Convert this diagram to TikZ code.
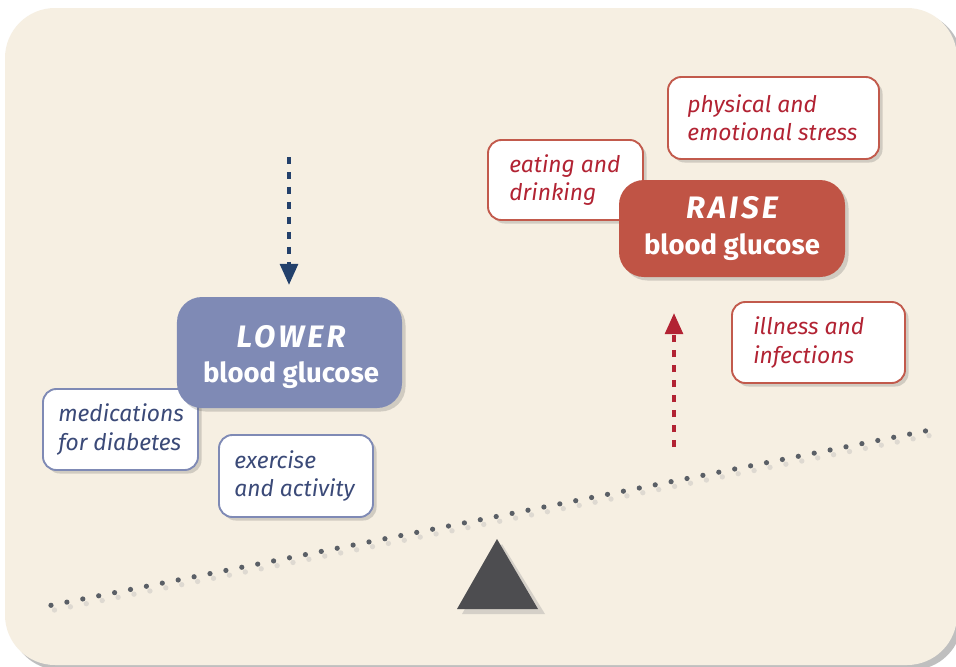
\documentclass[tikz,border=0pt]{standalone}
\usepackage{fontspec}
\setmainfont{Fira Sans}
\usetikzlibrary{shadows,arrows.meta}
\definecolor{bg}{HTML}{F6EFE2}
\definecolor{lowfill}{HTML}{7F8AB5}
\definecolor{raisefill}{HTML}{C05445}
\definecolor{bluetext}{HTML}{3B4A78}
\definecolor{redtext}{HTML}{B22333}
\definecolor{redborder}{HTML}{C25A4C}
\definecolor{navy}{HTML}{23406B}
\definecolor{dotcol}{HTML}{5A5F66}
\definecolor{tri}{HTML}{4D4D50}
\tikzset{
  px/.style={x=0.03cm,y=-0.03cm},
  softshadow/.style={drop shadow={opacity=0.22,shadow xshift=3pt,shadow yshift=-3pt,fill=black!70}},
  bigbox/.style={rounded corners=0.75cm,text=white,align=center,inner sep=0pt,softshadow,
     font=\fontsize{23.5}{30}\selectfont\bfseries},
  smallbox/.style={rounded corners=0.4cm,fill=white,line width=1.6pt,inner sep=0pt,softshadow},
  bluebox/.style={smallbox,draw=lowfill},
  redbox/.style={smallbox,draw=redborder},
  itext/.style={anchor=west,align=left,inner sep=0pt,font=\fontsize{19.5}{24}\selectfont\itshape},
  bluetxt/.style={itext,text=bluetext,xshift=0.48cm},
  redtxt/.style={itext,text=redtext,xshift=0.66cm},
  dasharrow/.style={line width=3.4pt,dash pattern=on 6pt off 6.8pt,-{Triangle[length=18pt,width=15pt]}},
}
\newcommand\bighead[1]{{\itshape\addfontfeatures{LetterSpace=10}\fontsize{26.5}{30}\selectfont #1}}
\begin{document}
\begin{tikzpicture}[px]
\useasboundingbox (0,0) rectangle (956,666);
\fill[white] (0,0) rectangle (956,666);
% background panel
\fill[black!25,rounded corners=1.5cm] (10,12) rectangle (962,670);
\fill[bg,rounded corners=1.5cm] (5,8) rectangle (957,665);
% seesaw dotted line
\foreach \i in {0,...,55}{
  \fill[black!30,opacity=0.35] ({54.5+\i*15.9},{610-\i*3.17}) circle (0.08cm);
}
\foreach \i in {0,...,55}{
  \fill[dotcol] ({51+\i*15.9},{605.3-\i*3.17}) circle (0.078cm);
}
% fulcrum
\fill[black!40,opacity=0.35] (502,544) -- (462,614) -- (545,614) -- cycle;
\fill[tri] (497,539) -- (457,609) -- (538,609) -- cycle;
% small boxes
\node[bluebox,minimum width=4.65cm,minimum height=2.43cm] (med) at (120.5,429.5) {};
\node[bluetxt] (medt) at (med.west) {medications\\for diabetes};
\node[bluebox,minimum width=4.62cm,minimum height=2.46cm] (ex) at (296,476) {};
\node[bluetxt] (ext) at (ex.west) {exercise\\and activity};
\node[redbox,minimum width=4.65cm,minimum height=2.4cm] (eat) at (565.5,180) {};
\node[redtxt] (eatt) at (eat.west) {eating and\\drinking};
\node[redbox,minimum width=6.33cm,minimum height=2.46cm] (phys) at (773.5,118) {};
\node[redtxt,xshift=-0.06cm] (physt) at (phys.west) {physical and\\emotional stress};
\node[redbox,minimum width=5.19cm,minimum height=2.43cm] (ill) at (818.5,342.5) {};
\node[redtxt] (illt) at (ill.west) {illness and\\infections};
% big boxes
\node[bigbox,fill=lowfill,minimum width=6.75cm,minimum height=3.33cm] (low) at (289.5,352.5) {};
\node[text=white,align=center,inner sep=0pt,font=\fontsize{23.5}{30}\selectfont\bfseries] (lowt) at (291,357)
  {\bighead{LOWER}\\blood glucose};
\node[bigbox,fill=raisefill,minimum width=6.78cm,minimum height=2.91cm] (raise) at (732,228.5)
  {\bighead{RAISE}\\blood glucose};
% arrows
\coordinate (dtop) at (289,157);
\coordinate (dend) at (289,285);
\draw[dasharrow,navy] (dtop) -- (dend);
\coordinate (ubot) at (674,447);
\coordinate (utop) at (674,313);
\draw[dasharrow,redtext] (ubot) -- (utop);
\end{tikzpicture}
\end{document}
